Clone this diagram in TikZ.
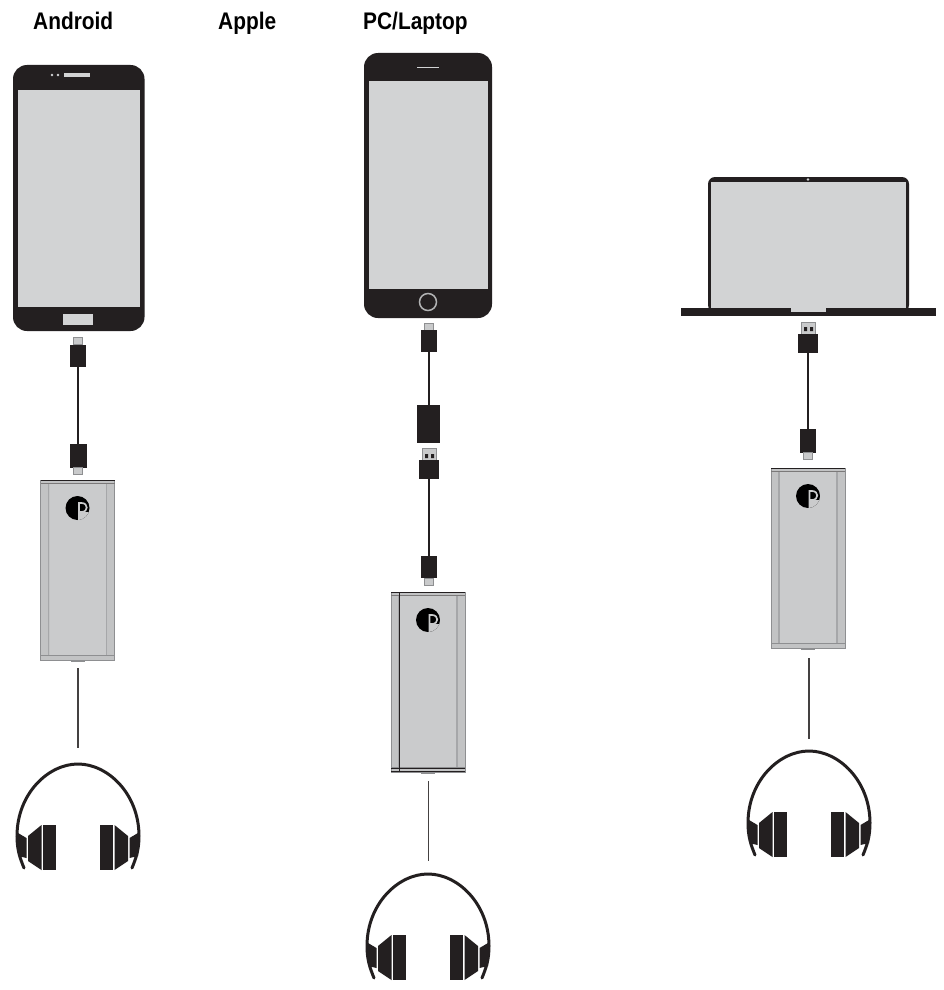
\documentclass[tikz,border=0pt]{standalone}
\usepackage{fontspec}
\setmainfont[FakeStretch=0.87,BoldFeatures={FakeStretch=0.87}]{Liberation Sans}
\definecolor{ink}{HTML}{231F20}
\definecolor{panel}{HTML}{D2D3D4}
\definecolor{casing}{HTML}{CACBCC}
\definecolor{casingedge}{HTML}{C2C3C4}
\definecolor{casingdark}{HTML}{8E8F91}
\definecolor{tipgrey}{HTML}{C9CACB}
\tikzset{
  x=1pt,y=-1pt,
  title/.style={anchor=base west,font=\fontsize{24}{28}\selectfont\bfseries,text=black,inner sep=0pt},
  plugbody/.style={draw=none,fill=ink,inner sep=0pt,minimum width=16pt,minimum height=22pt},
  plugtip/.style={draw=casingdark,line width=0.7pt,fill=tipgrey,inner sep=0pt,minimum width=9pt,minimum height=7pt},
  usbtip/.style={draw=casingdark,line width=0.7pt,fill=tipgrey,inner sep=0pt,minimum width=14pt,minimum height=12pt},
  usbbody/.style={draw=none,fill=ink,inner sep=0pt,minimum width=20pt,minimum height=19pt},
  adapter/.style={draw=none,fill=ink,inner sep=0pt,minimum width=23pt,minimum height=38pt},
  cable/.style={draw=ink,line width=2pt},
  audiowire/.style={draw=ink!85,line width=1.8pt},
  pics/dac/.style={code={
    % casing, with the end bands and soft side seams
    \fill[casingedge] (-37,0) rectangle (37,180);
    \fill[casing] (-28,4) rectangle (28,175);
    \draw[casingdark,line width=0.8pt] (-37,0) rectangle (37,180);
    \draw[casingdark!60!casing,line width=1.4pt] (-29,3) -- (-29,176) (29,3) -- (29,176);
    \draw[casingdark,line width=0.8pt] (-37,175) -- (37,175);
    \draw[ink,line width=1.3pt] (-37,0.8) -- (37,0.8);
    \draw[ink!60,line width=0.8pt] (-37,3.6) -- (37,3.6);
    \fill[casingdark] (-7,180) rectangle (7,182);
    % round logo with the letter P cut out of it
    \begin{scope}
      \clip (0,28) circle (12);
      \fill[black] (-13,15) rectangle (13,41);
      \fill[casing] (1,32) rectangle (13,41);
      \draw[casing,line width=1.7pt] (1.5,41) -- (1.5,23) -- (4,23)
        .. controls (11,23) and (11,32) .. (4,32) -- (1.5,32);
    \end{scope}
  }},
  pics/headset/.style={code={
    % headband
    \draw[ink,line width=3pt,line cap=round]
      (-54,104) .. controls (-58,94) and (-61,86) .. (-61,72)
      .. controls (-61,30) and (-30,0) .. (0,0)
      .. controls (30,0) and (61,30) .. (61,72)
      .. controls (61,86) and (58,94) .. (54,104);
    % ear cups, built from three slices on each side
    \foreach \s in {-1,1}{
      \fill[ink] (\s*22,61) rectangle (\s*35,106);
      \fill[ink] (\s*36.5,61) -- (\s*36.5,106) -- (\s*50,97) -- (\s*50,72) -- cycle;
      \fill[ink] (\s*51.5,74) -- (\s*51.5,94) -- (\s*60,92) -- (\s*60,69) -- cycle;
    }
  }}
}
\begin{document}
\begin{tikzpicture}
\useasboundingbox (0,0) rectangle (943,990);
\fill[white] (0,0) rectangle (943,990);

% column headings
\node[title] (hAndroid) at (33,30) {Android};
\node[title] (hApple) at (218,30) {Apple};
\node[title] (hPC) at (363,30) {PC/Laptop};

% ---- Android phone and its chain ----
\fill[ink,rounded corners=14pt] (13,65) rectangle (144.5,331);
\fill[panel] (18,90) rectangle (140,307);
\fill[panel] (64,73) rectangle (90,77);
\fill[panel] (63,314) rectangle (93,325);
\fill[panel] (52,75) circle (1.3) (58,75) circle (1.3);

\node[plugtip] (aTipA) at (78,341) {};
\node[plugbody] (aPlugA) at (78,356) {};
\node[plugbody,minimum width=17pt,minimum height=24pt] (aPlugB) at (78,456) {};
\node[plugtip] (aTipB) at (78,471) {};
\draw[cable] (aPlugA) -- (aPlugB);
\pic at (77.5,480) {dac};
\coordinate (aWireTop) at (78,668);
\coordinate (aWireEnd) at (78,748);
\draw[audiowire] (aWireTop) -- (aWireEnd);
\pic at (78,764) {headset};

% ---- Apple phone and its chain ----
\fill[ink,rounded corners=14pt] (364,53) rectangle (492,318);
\fill[panel] (369,81) rectangle (488,289);
\draw[panel,line width=1pt] (417,68) -- (439,68);
\draw[panel!85!black,line width=1.5pt] (428,302) circle (8.5);

\node[plugtip] (bTipA) at (428.5,327) {};
\node[plugbody] (bPlugA) at (428.5,341) {};
\node[adapter] (bAdapter) at (428.5,424) {};
\node[usbtip] (bUsbTip) at (429,454) {};
\fill[ink] (425,454) rectangle (428,458) (431,454) rectangle (434,458);
\node[usbbody] (bUsb) at (428.5,469.5) {};
\node[plugbody] (bPlugB) at (428.5,567) {};
\node[plugtip] (bTipB) at (428.5,582) {};
\draw[cable] (bPlugA) -- (bAdapter);
\draw[cable] (bUsb) -- (bPlugB);
\pic at (428,592) {dac};
% this casing carries a stronger left seam and lower band
\draw[ink,line width=1pt] (399,592) -- (399,772) (391,768) -- (465,768) (391,771.5) -- (465,771.5);
\coordinate (bWireTop) at (428.5,781);
\coordinate (bWireEnd) at (428.5,861);
\draw[audiowire] (bWireTop) -- (bWireEnd);
\pic at (428,874) {headset};

% ---- Laptop and its chain ----
\fill[ink,rounded corners=7pt] (708,177) -- (909,177) -- (909,312) -- (708,312) -- cycle;
\fill[panel] (711,182) rectangle (906,308);
\fill[panel] (808,179.5) circle (1.4);
\fill[ink] (681,308) rectangle (936,316);
\fill[panel] (791,308) rectangle (826,312);

\node[usbtip] (cUsbTip) at (808.5,328) {};
\fill[ink] (804,327) rectangle (807,331) (810,327) rectangle (813,331);
\node[usbbody] (cUsb) at (807.5,343) {};
\node[plugbody,minimum height=24pt] (cPlug) at (807.5,441) {};
\node[plugtip] (cTip) at (807.5,456) {};
\draw[cable] (cUsb) -- (cPlug);
\pic at (808,468) {dac};
\coordinate (cWireTop) at (809,658);
\coordinate (cWireEnd) at (809,739);
\draw[audiowire] (cWireTop) -- (cWireEnd);
\pic at (809,751) {headset};
\end{tikzpicture}
\end{document}
